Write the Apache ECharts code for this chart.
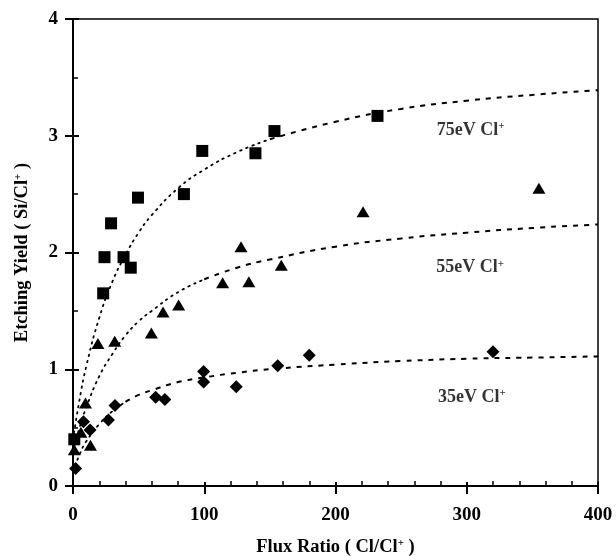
<!DOCTYPE html>
<html>
<head>
    <meta charset="UTF-8">
    <title>etching yield</title>
    <style>
        html { overflow: hidden; }
        body { width: 100%; height: 100%; padding: 0; margin: 0; background: #fff; }
        #chart { width: 616px; height: 556px; }
    </style>
    <script type="text/javascript" src="https://cdn.jsdelivr.net/npm/echarts@6/dist/echarts.min.js"></script>
</head>
<body>
<div id="chart"></div>
<script>
    // measured points [flux ratio, yield]
    let ev75 = [[1, 0.40], [23, 1.65], [24, 1.96], [29, 2.25], [38.5, 1.96], [44, 1.87], [49.5, 2.47],
        [84.5, 2.50], [98.5, 2.87], [139, 2.85], [153.5, 3.04], [232, 3.17]];
    let ev55 = [[1, 0.31], [6, 0.46], [9.5, 0.71], [13.3, 0.35], [19, 1.22], [31.8, 1.24], [59.7, 1.31],
        [68.6, 1.49], [80.5, 1.55], [114, 1.74], [128, 2.05], [134, 1.75], [158.7, 1.89], [221, 2.35], [355, 2.55]];
    let ev35 = [[2, 0.15], [8, 0.55], [13, 0.48], [27, 0.565], [32, 0.69], [63, 0.76], [70, 0.74],
        [99.5, 0.98], [99.5, 0.89], [124.4, 0.85], [156, 1.03], [180, 1.12], [320, 1.15]];

    // fitted curves
    let curveX   = [0, 5, 10, 20, 30, 40, 50, 60, 80, 100, 125, 150, 200, 250, 300, 350, 400];
    let curve75  = [0.40, 0.74, 1.02, 1.44, 1.75, 1.98, 2.17, 2.32, 2.55, 2.71, 2.86, 2.97, 3.12, 3.23, 3.30, 3.35, 3.39];
    let curve55  = [0.30, 0.50, 0.67, 0.94, 1.13, 1.29, 1.41, 1.50, 1.66, 1.77, 1.87, 1.94, 2.05, 2.12, 2.17, 2.21, 2.24];
    let curve35  = [0.12, 0.27, 0.38, 0.53, 0.64, 0.72, 0.78, 0.82, 0.89, 0.93, 0.97, 1.00, 1.04, 1.07, 1.09, 1.10, 1.11];
    // where each curve turns from dotted to dashed
    let dashFrom = {ev75: 150, ev55: 100, ev35: 40};

    let curveLabels = ['75eV Cl', '55eV Cl', '35eV Cl'];
    let labelPos = [[303, 3.05], [302.5, 1.87], [304, 0.76]];

    let xTicks = [0, 100, 200, 300, 400];
    let yTicks = [0, 1, 2, 3, 4];

    const serif = '"Liberation Serif", "DejaVu Serif", serif';

    function splitCurve(ys, from) {
        let dotted = [], dashed = [];
        curveX.forEach((x, i) => {
            if (x <= from) dotted.push([x, ys[i]]);
            if (x >= from) dashed.push([x, ys[i]]);
        });
        return [dotted, dashed];
    }

    function curveSeries(ys, from) {
        let parts = splitCurve(ys, from);
        return [
            {type: 'line', data: parts[0], smooth: true, symbol: 'none', silent: true,
                lineStyle: {color: '#000', width: 1.8, type: [1.5, 5], cap: 'round'}},
            {type: 'line', data: parts[1], smooth: true, symbol: 'none', silent: true,
                lineStyle: {color: '#000', width: 2, type: [5, 6]}}
        ];
    }

    let chart = echarts.init(document.getElementById('chart'), null, {renderer: 'canvas'});

    let tickLabel = {color: '#000', fontFamily: serif, fontWeight: 'bold', fontSize: 19};
    let supStyle = {fontSize: 11, fontFamily: serif, fontWeight: 'bold', verticalAlign: 'top', padding: [0, 0, 8, 0]};
    let nameStyle = {color: '#000', fontFamily: serif, fontWeight: 'bold', fontSize: 18.5, rich: {sup: supStyle}};

    let option = {
        animation: false,
        backgroundColor: '#fff',
        grid: {
            left: 73, right: 18, top: 19, bottom: 70, outerBoundsMode: 'none',
            show: true, borderColor: '#000', borderWidth: 1.5
        },
        xAxis: [
            {
                type: 'value', min: xTicks[0], max: xTicks[xTicks.length - 1], interval: 100,
                axisLine: {lineStyle: {color: '#000', width: 2}},
                axisTick: {inside: false, length: 8, lineStyle: {color: '#000', width: 2}},
                axisLabel: Object.assign({margin: 20}, tickLabel),
                splitLine: {show: false},
                name: 'Flux Ratio ( Cl/Cl{sup|+} )', nameLocation: 'middle', nameGap: 52,
                nameTextStyle: nameStyle
            },
            {
                type: 'value', min: xTicks[0], max: xTicks[xTicks.length - 1], interval: 100, position: 'bottom',
                axisLine: {show: false},
                axisTick: {inside: true, length: 4, lineStyle: {color: '#000', width: 2}},
                minorTick: {show: true, splitNumber: 5, length: 5, lineStyle: {color: '#000', width: 1.5}},
                axisLabel: {show: false}, splitLine: {show: false}
            }
        ],
        yAxis: [
            {
                type: 'value', min: yTicks[0], max: yTicks[yTicks.length - 1], interval: 1,
                axisLine: {lineStyle: {color: '#000', width: 2}},
                axisTick: {inside: false, length: 8, lineStyle: {color: '#000', width: 2}},
                axisLabel: Object.assign({margin: 15}, tickLabel),
                splitLine: {show: false},
                name: 'Etching Yield ( Si/Cl{sup|+} )', nameLocation: 'middle', nameGap: 41, nameRotate: 90,
                nameTextStyle: nameStyle
            },
            {
                type: 'value', min: yTicks[0], max: yTicks[yTicks.length - 1], interval: 1, position: 'left',
                axisLine: {show: false},
                axisTick: {inside: true, length: 6, lineStyle: {color: '#000', width: 2}},
                minorTick: {show: true, splitNumber: 2, length: 5, lineStyle: {color: '#000', width: 1.5}},
                axisLabel: {show: false}, splitLine: {show: false}
            }
        ],
        series: [].concat(
            curveSeries(curve75, dashFrom.ev75),
            curveSeries(curve55, dashFrom.ev55),
            curveSeries(curve35, dashFrom.ev35),
            [
                {type: 'scatter', data: ev75, symbol: 'rect', symbolSize: 12, itemStyle: {color: '#000', opacity: 1}},
                {type: 'scatter', data: ev55, symbol: 'triangle', symbolSize: [13, 11], itemStyle: {color: '#000', opacity: 1}},
                {type: 'scatter', data: ev35, symbol: 'diamond', symbolSize: [13, 13], itemStyle: {color: '#000', opacity: 1}},
                {
                    type: 'scatter', symbolSize: 0, silent: true,
                    data: labelPos.map((p, i) => ({value: p, name: curveLabels[i]})),
                    label: {
                        show: true, position: 'inside',
                        formatter: p => p.name + '{sup|+}',
                        color: '#000', fontFamily: serif, fontWeight: 'bold', fontSize: 18,
                        rich: {sup: supStyle}
                    }
                }
            ]
        )
    };
    chart.setOption(option);
</script>
</body>
</html>
